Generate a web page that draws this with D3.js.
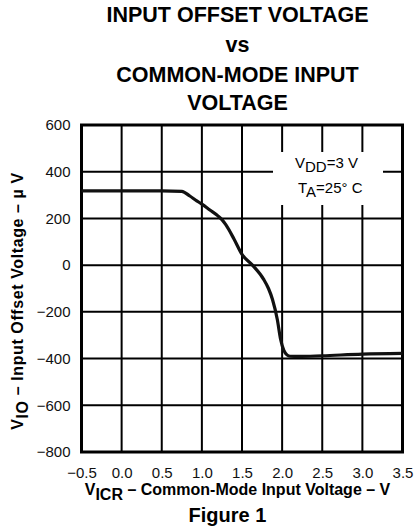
<!DOCTYPE html>
<html>
<head>
<meta charset="utf-8">
<script src="https://cdn.jsdelivr.net/npm/d3@7"></script>
<style>
    body { margin: 0; background: #fff; }
    svg { display: block; font-family: "Liberation Sans", Arial, sans-serif; }
</style>
</head>
<body>
<div id="chart"></div>
<script>
/*global d3*/
var vicr = [-0.5, 0.0, 0.5, 0.75, 0.85, 0.92, 1.0, 1.1, 1.2, 1.25, 1.3, 1.4, 1.5, 1.63, 1.77, 1.83, 1.88, 1.94, 1.98, 2.02, 2.06, 2.1, 2.2, 2.5, 3.0, 3.5];
var vio = [318, 318, 318, 316, 296, 279, 261, 236, 211, 195, 172, 112, 46, 0, -61, -100, -147, -233, -316, -364, -384, -390, -391, -388, -381, -378];
var xTicks = [-0.5, 0.0, 0.5, 1.0, 1.5, 2.0, 2.5, 3.0, 3.5];
var yTicks = [-800, -600, -400, -200, 0, 200, 400, 600];
var titleLines = ["INPUT OFFSET VOLTAGE", "vs", "COMMON-MODE INPUT", "VOLTAGE"];

(function () {
    "use strict";
    var svg, x, y, line, legend,
        dimensions = {
            width: 415,
            height: 529
        },
        plot = {
            left: 81.5,
            right: 402.5,
            top: 125,
            bottom: 452
        };

    svg = d3.select('#chart')
        .append('svg')
        .attr("width", dimensions.width)
        .attr("height", dimensions.height);

    x = d3.scaleLinear().domain([-0.5, 3.5]).range([plot.left, plot.right]);
    y = d3.scaleLinear().domain([-800, 600]).range([plot.bottom, plot.top]);

    // title
    svg.append('g').selectAll('text').data(titleLines).enter().append('text')
        .attr("x", 237.5)
        .attr("y", function (d, i) {
            return [22, 52, 82, 110][i];
        })
        .attr("text-anchor", "middle")
        .style("font-size", "21.5px")
        .style("font-weight", "bold")
        .text(function (d) {
            return d;
        });

    // grid
    svg.append('g').selectAll('line').data(xTicks).enter().append('line')
        .attr('x1', function (d) { return x(d); })
        .attr('x2', function (d) { return x(d); })
        .attr('y1', plot.top)
        .attr('y2', plot.bottom)
        .attr('stroke', '#000')
        .attr('stroke-width', 2);

    svg.append('g').selectAll('line').data(yTicks).enter().append('line')
        .attr('x1', plot.left)
        .attr('x2', plot.right)
        .attr('y1', function (d) { return y(d); })
        .attr('y2', function (d) { return y(d); })
        .attr('stroke', '#000')
        .attr('stroke-width', 2);

    // legend box knocks out grid
    legend = svg.append('g');
    legend.append('rect')
        .attr('x', 273)
        .attr('y', 152)
        .attr('width', 110)
        .attr('height', 53)
        .attr('fill', '#fff');

    legend.append('text')
        .attr('x', 295)
        .attr('y', 168)
        .style("font-size", "15px")
        .call(function (t) {
            t.append('tspan').text("V");
            t.append('tspan').attr('dy', 4).text("DD");
            t.append('tspan').attr('dy', -4).text("=3 V");
        });

    legend.append('text')
        .attr('x', 298)
        .attr('y', 193)
        .style("font-size", "15px")
        .call(function (t) {
            t.append('tspan').text("T");
            t.append('tspan').attr('dy', 4).text("A");
            t.append('tspan').attr('dy', -4).text("=25\u00b0 C");
        });

    // frame
    svg.append('rect')
        .attr('x', plot.left)
        .attr('y', plot.top)
        .attr('width', plot.right - plot.left)
        .attr('height', plot.bottom - plot.top)
        .attr('fill', 'none')
        .attr('stroke', '#000')
        .attr('stroke-width', 3);

    // axes (labels only)
    svg.append('g')
        .attr('transform', 'translate(0,' + plot.bottom + ')')
        .call(d3.axisBottom(x).tickValues(xTicks).tickFormat(d3.format(".1f")).tickSize(0).tickPadding(15))
        .call(function (g) {
            g.select('.domain').remove();
            g.selectAll('text').style("font-size", "15px").style("font-family", null).attr('fill', '#111');
        });

    svg.append('g')
        .attr('transform', 'translate(' + plot.left + ',0)')
        .call(d3.axisLeft(y).tickValues(yTicks).tickFormat(d3.format("d")).tickSize(0).tickPadding(11))
        .call(function (g) {
            g.select('.domain').remove();
            g.selectAll('text').style("font-size", "15px").style("font-family", null).attr('fill', '#111');
        });

    // curve
    line = d3.line()
        .x(function (d) { return x(d[0]); })
        .y(function (d) { return y(d[1]); })
        .curve(d3.curveMonotoneX);

    svg.append('path')
        .datum(d3.zip(vicr, vio))
        .attr('d', line)
        .attr('fill', 'none')
        .attr('stroke', '#111')
        .attr('stroke-width', 3.2)
        .attr('stroke-linejoin', 'round');

    // axis titles
    svg.append('text')
        .attr('x', 237.5)
        .attr('y', 495)
        .attr('text-anchor', 'middle')
        .style("font-size", "16px")
        .style("font-weight", "bold")
        .call(function (t) {
            t.append('tspan').text("V");
            t.append('tspan').attr('dy', 5).text("ICR");
            t.append('tspan').attr('dy', -5).text(" \u2013 Common-Mode Input Voltage \u2013 V");
        });

    svg.append('text')
        .attr('transform', 'translate(23,301) rotate(-90)')
        .attr('text-anchor', 'middle')
        .style("font-size", "16px")
        .style("font-weight", "bold")
        .style("letter-spacing", "0.6px")
        .call(function (t) {
            t.append('tspan').text("V");
            t.append('tspan').attr('dy', 5).text("IO");
            t.append('tspan').attr('dy', -5).text(" \u2013 Input Offset Voltage \u2013  \u00b5 V");
        });

    svg.append('text')
        .attr('x', 227.5)
        .attr('y', 522)
        .attr('text-anchor', 'middle')
        .style("font-size", "20px")
        .style("font-weight", "bold")
        .text("Figure 1");
}());
</script>
</body>
</html>
